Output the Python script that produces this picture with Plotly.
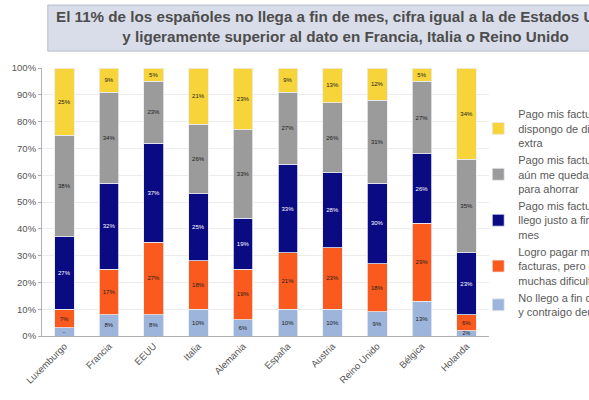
import plotly.graph_objects as go

categories = ["Luxemburgo", "Francia", "EEUU", "Italia", "Alemania",
              "España", "Austria", "Reino Unido", "Bélgica", "Holanda"]

no_llego = [3, 8, 8, 10, 6, 10, 10, 9, 13, 2]
dificultades = [7, 17, 27, 18, 19, 21, 23, 18, 29, 6]
justo = [27, 32, 37, 25, 19, 33, 28, 30, 26, 23]
algo = [38, 34, 23, 26, 33, 27, 26, 31, 27, 35]
extra = [25, 9, 5, 21, 23, 9, 13, 12, 5, 34]

series = [
    ("No llego a fin de mes<br>y contraigo deudas", no_llego, "#9db5da", "#1a1a1a"),
    ("Logro pagar mis<br>facturas, pero con<br>muchas dificultades", dificultades, "#fb5a1e", "#1a1a1a"),
    ("Pago mis facturas y<br>llego justo a fin de<br>mes", justo, "#0a0a82", "#ffffff"),
    ("Pago mis facturas y<br>aún me queda algo<br>para ahorrar", algo, "#9b9b9b", "#1a1a1a"),
    ("Pago mis facturas y<br>dispongo de dinero<br>extra", extra, "#f7d43a", "#1a1a1a"),
]

W = 680  # original chart is wider than the visible 589 px window (cropped on the right)

fig = go.Figure()
for i, (name, vals, color, tcol) in enumerate(series):
    fig.add_trace(go.Bar(
        x=categories, y=vals, name=name, legendgroup=str(i),
        legendrank=len(series) - i,
        marker=dict(color=color, line=dict(color="#e8ecf4", width=0.8)),
        text=[f"{v}%" for v in vals], textposition="inside",
        insidetextanchor="middle", textangle=0,
        textfont=dict(size=6, color=tcol, family="Liberation Sans"),
    ))

fig.update_layout(
    width=W, height=400,
    barmode="stack", bargap=0.56,
    plot_bgcolor="white", paper_bgcolor="white",
    margin=dict(l=32, r=W - 489, t=68, b=64),
    font=dict(family="Liberation Sans, Arial", color="#555555"),
    legend=dict(x=(478 - 32) / 457, y=0.879, xanchor="left", yanchor="top",
                traceorder="grouped", tracegroupgap=0,
                font=dict(size=11, color="#5a5a5a"),
                bgcolor="rgba(0,0,0,0)", itemwidth=30),
    showlegend=True,
)
fig.update_yaxes(range=[0, 100], dtick=10, ticksuffix="%",
                 showgrid=True, gridcolor="#ececec", gridwidth=1,
                 showline=True, linecolor="#b0b0b0", ticks="outside",
                 ticklen=3, tickcolor="#b0b0b0",
                 tickfont=dict(size=9.5, color="#555555"), zeroline=False)
fig.update_xaxes(tickangle=-45, showline=True, linecolor="#b0b0b0",
                 tickfont=dict(size=9.5, color="#555555"))

fig.add_shape(type="rect", xref="paper", yref="paper",
              x0=0.013, x1=(665 - 32) / 457, y0=1.063, y1=1.235,
              fillcolor="#d9dde9", line=dict(color="#b8bccb", width=1),
              layer="below")
fig.add_annotation(xref="paper", yref="paper", x=(342 - 32) / 457, y=(336 - 27) / 268,
                   text="<b>El 11% de los españoles no llega a fin de mes, cifra igual a la de Estados Unidos</b><br>"
                        "<b>y ligeramente superior al dato en Francia, Italia o Reino Unido</b>",
                   showarrow=False, xanchor="center", yanchor="middle", align="center",
                   font=dict(size=15.2, color="#4d4d4d"))

fig.write_html("out.html",
               post_script="document.documentElement.style.overflow='hidden';"
                           "document.body.style.overflow='hidden';")
